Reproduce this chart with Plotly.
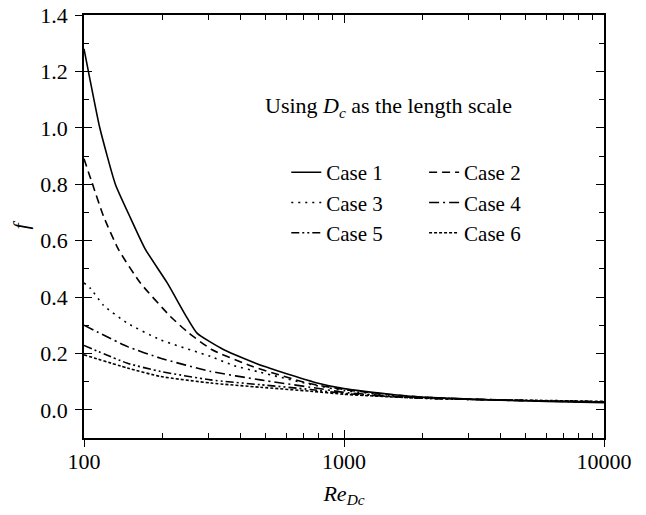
import plotly.graph_objects as go

# Data (Re_Dc vs f)
re_case1 = [100, 105, 115, 132, 151, 172, 209, 246, 272, 345, 492, 788, 1000, 1500, 2000, 3000, 4000, 6000, 10000]
f_case1 = [1.28, 1.18, 1.00, 0.80, 0.68, 0.57, 0.45, 0.335, 0.272, 0.213, 0.154, 0.095, 0.075, 0.055, 0.045, 0.038, 0.034, 0.030, 0.025]

re_case2 = [100, 107.5, 119, 136, 165, 215, 253, 311, 443, 722, 1000, 1500, 2000, 3000, 5000, 10000]
f_case2 = [0.89, 0.804, 0.685, 0.567, 0.449, 0.331, 0.272, 0.213, 0.154, 0.095, 0.072, 0.054, 0.045, 0.038, 0.033, 0.028]

re_case3 = [100, 106, 119, 147, 197, 307, 377, 477, 743, 1000, 1500, 2000, 3000, 5000, 10000]
f_case3 = [0.45, 0.43, 0.37, 0.307, 0.248, 0.189, 0.157, 0.133, 0.090, 0.068, 0.052, 0.044, 0.038, 0.033, 0.028]

re_case4 = [100, 147, 197, 307, 477, 743, 1000, 1500, 2000, 3000, 5000, 10000]
f_case4 = [0.30, 0.224, 0.183, 0.136, 0.106, 0.080, 0.062, 0.049, 0.042, 0.037, 0.032, 0.027]

re_case5 = [100, 147, 197, 307, 477, 743, 1000, 1500, 2000, 3000, 5000, 10000]
f_case5 = [0.228, 0.165, 0.136, 0.106, 0.089, 0.072, 0.058, 0.047, 0.041, 0.037, 0.033, 0.028]

re_case6 = [100, 147, 197, 307, 477, 743, 1000, 1500, 2000, 3000, 5000, 10000]
f_case6 = [0.195, 0.148, 0.118, 0.095, 0.080, 0.066, 0.055, 0.046, 0.041, 0.037, 0.034, 0.030]

series_names = ["Case 1", "Case 2", "Case 3", "Case 4", "Case 5", "Case 6"]
series_x = [re_case1, re_case2, re_case3, re_case4, re_case5, re_case6]
series_y = [f_case1, f_case2, f_case3, f_case4, f_case5, f_case6]
dashes = ["solid", "8px,5px", "2px,5px", "10px,4px,2px,4px", "8px,3px,2px,3px,2px,3px", "3px,2px"]
legend_ids = ["legend", "legend2", "legend", "legend2", "legend", "legend2"]

y_tickvals = [0.0, 0.2, 0.4, 0.6, 0.8, 1.0, 1.2, 1.4]
x_tickvals = [100, 1000, 10000]
x_ticktext = ["100", "1000", "10000"]

FONT = "Liberation Serif"
FS = 22

fig = go.Figure()
for name, xs, ys, d, lg in zip(series_names, series_x, series_y, dashes, legend_ids):
    fig.add_trace(go.Scatter(
        x=xs, y=ys, name=name, mode="lines", legend=lg,
        line=dict(color="black", width=1.6, dash=d, shape="spline", smoothing=0.5),
    ))

# invisible carrier trace so the overlay axes (outer halves of major ticks) are drawn
fig.add_trace(go.Scatter(
    x=re_case1, y=f_case1, xaxis="x2", yaxis="y2", mode="lines",
    line=dict(width=0, color="rgba(0,0,0,0)"), opacity=0,
    showlegend=False, hoverinfo="skip",
))

legend_common = dict(
    orientation="v", yanchor="top", xanchor="left",
    bgcolor="rgba(0,0,0,0)", font=dict(family=FONT, size=21),
    itemwidth=30, tracegroupgap=0, borderwidth=0,
)

fig.update_layout(
    width=638, height=507,
    margin=dict(l=76, r=42, t=7, b=77, autoexpand=False),
    paper_bgcolor="white", plot_bgcolor="white",
    font=dict(family=FONT, size=FS, color="black"),
    showlegend=True,
    legend=dict(x=0.389, y=0.676, **legend_common),
    legend2=dict(x=0.654, y=0.676, **legend_common),
    annotations=[dict(
        text="Using <i>D</i><sub><i>c</i></sub> as the length scale",
        xref="paper", yref="paper", x=0.344, y=0.7825, xanchor="left", yanchor="middle",
        showarrow=False, font=dict(family=FONT, size=FS, color="black"),
    )],
    xaxis=dict(
        type="log", range=[2, 4], automargin=False,
        tickvals=x_tickvals, ticktext=x_ticktext,
        ticks="inside", ticklen=8, tickwidth=1.3, tickcolor="black",
        ticklabelstandoff=3, ticklabeloverflow="allow",
        minor=dict(ticks="inside", ticklen=5, tickwidth=1.1, tickcolor="black", dtick="D1", showgrid=False),
        showline=True, linecolor="black", linewidth=1.5, mirror="allticks",
        showgrid=False, zeroline=False,
        title=dict(text="<i>Re</i><sub><i>Dc</i></sub>", font=dict(family=FONT, size=FS), standoff=12),
    ),
    yaxis=dict(
        range=[-0.1, 1.4], automargin=False,
        tickvals=y_tickvals, tickformat=".1f",
        ticks="inside", ticklen=8, tickwidth=1.3, tickcolor="black",
        ticklabelstandoff=10, ticklabeloverflow="allow",
        minor=dict(ticks="inside", ticklen=5, tickwidth=1.1, tickcolor="black", dtick=0.1, tick0=-0.1, showgrid=False),
        showline=True, linecolor="black", linewidth=1.5, mirror="allticks",
        showgrid=False, zeroline=False,
        title=dict(text="<i>f</i>", font=dict(family=FONT, size=FS), standoff=32),
    ),
    # outer halves of the major ticks (reference ticks cross the axis line)
    xaxis2=dict(type="log", range=[2, 4], overlaying="x", anchor="y2", side="bottom",
                tickvals=x_tickvals, ticks="outside", ticklen=8, tickwidth=1.3, tickcolor="black",
                showticklabels=False, showline=False, showgrid=False, zeroline=False, automargin=False),
    yaxis2=dict(range=[-0.1, 1.4], overlaying="y", anchor="x2", side="left",
                tickvals=y_tickvals, ticks="outside", ticklen=8, tickwidth=1.3, tickcolor="black",
                showticklabels=False, showline=False, showgrid=False, zeroline=False, automargin=False),
)

fig.write_html("out.html")
